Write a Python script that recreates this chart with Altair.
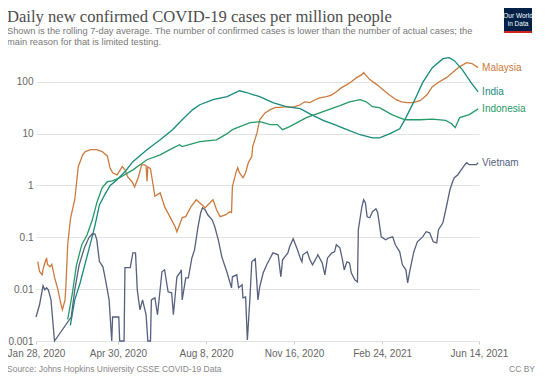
import altair as alt
import pandas as pd

# ---------------- data ----------------
countries = ["Malaysia", "India", "Indonesia", "Vietnam"]
colors = ["#cc7a3e", "#178a7c", "#259a66", "#56607f"]

malaysia_dates = [
    "2020-01-30", "2020-02-01", "2020-02-04", "2020-02-05", "2020-02-07", "2020-02-09", "2020-02-10", "2020-02-13", "2020-02-15", "2020-02-18",
    "2020-02-22", "2020-02-25", "2020-02-27", "2020-03-01", "2020-03-02", "2020-03-04", "2020-03-07", "2020-03-09", "2020-03-12", "2020-03-14",
    "2020-03-16", "2020-03-21", "2020-03-24", "2020-03-30", "2020-04-06", "2020-04-12", "2020-04-18", "2020-04-21", "2020-04-24", "2020-04-29",
    "2020-05-05", "2020-05-08", "2020-05-11", "2020-05-16", "2020-05-19", "2020-05-23", "2020-05-27", "2020-05-30", "2020-06-01", "2020-06-02",
    "2020-06-03", "2020-06-06", "2020-06-11", "2020-06-17", "2020-06-22", "2020-06-28", "2020-07-04", "2020-07-06", "2020-07-09", "2020-07-12",
    "2020-07-16", "2020-07-22", "2020-07-28", "2020-08-01", "2020-08-07", "2020-08-10", "2020-08-16", "2020-08-20", "2020-08-24", "2020-08-30",
    "2020-09-04", "2020-09-06", "2020-09-07", "2020-09-11", "2020-09-13", "2020-09-15", "2020-09-19", "2020-09-22", "2020-09-25", "2020-09-29",
    "2020-09-30", "2020-10-05", "2020-10-08", "2020-10-14", "2020-10-20", "2020-10-26", "2020-10-31", "2020-11-08", "2020-11-11", "2020-11-17",
    "2020-11-23", "2020-11-28", "2020-12-04", "2020-12-10", "2020-12-15", "2020-12-23", "2020-12-29", "2021-01-03", "2021-01-09", "2021-01-15",
    "2021-01-20", "2021-01-26", "2021-02-01", "2021-02-03", "2021-02-05", "2021-02-10", "2021-02-18", "2021-02-25", "2021-03-04", "2021-03-12",
    "2021-03-18", "2021-03-24", "2021-03-31", "2021-04-08", "2021-04-16", "2021-04-22", "2021-04-30", "2021-05-08", "2021-05-15", "2021-05-23",
    "2021-05-31", "2021-06-06", "2021-06-13",
]
malaysia_values = [
    0.034, 0.022, 0.019, 0.024, 0.032, 0.040, 0.030, 0.027, 0.030, 0.017,
    0.0097, 0.0054, 0.004, 0.0062, 0.012, 0.072, 0.22, 0.32, 0.53, 1.1,
    2.3, 3.9, 4.5, 4.9, 4.9, 4.5, 3.7, 2.2, 1.76, 1.6,
    2.3, 2.0, 1.47, 1.18, 0.94, 1.41, 2.5, 2.5, 2.4, 1.2,
    2.3, 2.1, 0.62, 0.72, 0.39, 0.25, 0.16, 0.128, 0.174, 0.24,
    0.25, 0.39, 0.53, 0.46, 0.37, 0.42, 0.53, 0.34, 0.25, 0.27,
    0.31, 0.30, 0.94, 1.76, 2.2, 1.76, 1.41, 1.76, 2.74, 3.6,
    5.6, 10.4, 18.5, 25, 29, 32, 32, 33, 32, 33,
    36, 41, 39.5, 45, 49, 51.5, 56, 64, 77, 88,
    100, 120, 137, 150, 137, 110, 88, 70, 56, 45,
    41, 39.5, 39.5, 43, 56, 80, 100, 120, 150, 196,
    234, 224, 187,
]

india_dates = [
    "2020-03-07", "2020-03-12", "2020-03-18", "2020-03-24", "2020-03-30", "2020-04-04", "2020-04-09", "2020-04-15", "2020-04-21", "2020-04-29",
    "2020-05-08", "2020-05-17", "2020-06-02", "2020-06-17", "2020-07-01", "2020-07-12", "2020-07-24", "2020-08-01", "2020-08-16", "2020-09-01",
    "2020-09-15", "2020-09-23", "2020-10-01", "2020-10-08", "2020-10-23", "2020-11-07", "2020-11-23", "2020-12-04", "2020-12-19", "2021-01-01",
    "2021-01-15", "2021-01-30", "2021-02-13", "2021-02-21", "2021-03-05", "2021-03-16", "2021-03-23", "2021-03-31", "2021-04-11", "2021-04-22",
    "2021-05-04", "2021-05-11", "2021-05-17", "2021-05-26", "2021-06-05", "2021-06-13",
]
india_values = [
    0.002, 0.0062, 0.013, 0.032, 0.078, 0.17, 0.42, 0.66, 0.99, 1.29,
    1.84, 2.87, 4.9, 7.6, 11.9, 18.5, 29, 36, 45, 51.5,
    67, 62, 56, 51.5, 39.5, 33, 30.3, 24, 18, 14.9,
    11.9, 9.5, 8.3, 8.3, 9.96, 12.4, 20.3, 37.8, 96, 187,
    279, 292, 255, 171, 96, 64,
]

indonesia_dates = [
    "2020-03-04", "2020-03-09", "2020-03-14", "2020-03-20", "2020-03-26", "2020-04-01", "2020-04-06", "2020-04-12", "2020-04-18", "2020-04-24",
    "2020-05-02", "2020-05-17", "2020-06-02", "2020-06-17", "2020-06-28", "2020-07-09", "2020-07-12", "2020-08-01", "2020-08-20", "2020-09-01",
    "2020-09-07", "2020-09-27", "2020-10-08", "2020-10-20", "2020-10-28", "2020-11-03", "2020-11-11", "2020-11-30", "2020-12-15", "2021-01-07",
    "2021-01-18", "2021-01-30", "2021-02-06", "2021-02-13", "2021-02-21", "2021-03-07", "2021-03-22", "2021-04-08", "2021-04-22", "2021-05-07",
    "2021-05-14", "2021-05-18", "2021-05-23", "2021-06-03", "2021-06-13",
]
indonesia_values = [
    0.0026, 0.0078, 0.0295, 0.072, 0.112, 0.218, 0.46, 0.9, 1.18, 1.23,
    1.41, 2.0, 3.13, 3.9, 4.9, 6.1, 5.6, 7.0, 7.6, 9.96,
    11.9, 16.2, 17, 14.9, 14.9, 11.9, 13.6, 20.3, 25, 34.6,
    41, 45, 41, 33, 31.6, 23.2, 18.5, 18.5, 19, 18,
    15.5, 13, 20.3, 23.2, 30,
]

vietnam_dates = [
    "2020-01-28", "2020-02-01", "2020-02-05", "2020-02-07", "2020-02-09", "2020-02-11", "2020-02-14", "2020-02-18", "2020-03-08", "2020-03-12",
    "2020-03-17", "2020-03-23", "2020-03-28", "2020-04-01", "2020-04-04", "2020-04-06", "2020-04-09", "2020-04-13", "2020-04-16", "2020-04-20",
    "2020-04-23", "2020-04-24", "2020-05-01", "2020-05-02", "2020-05-07", "2020-05-08", "2020-05-14", "2020-05-17", "2020-05-20", "2020-05-22",
    "2020-05-25", "2020-05-28", "2020-06-01", "2020-06-03", "2020-06-06", "2020-06-07", "2020-06-11", "2020-06-14", "2020-06-19", "2020-06-22",
    "2020-06-26", "2020-06-30", "2020-07-02", "2020-07-06", "2020-07-10", "2020-07-11", "2020-07-12", "2020-07-16", "2020-07-19", "2020-07-23",
    "2020-07-26", "2020-07-30", "2020-08-02", "2020-08-04", "2020-08-07", "2020-08-10", "2020-08-15", "2020-08-18", "2020-08-22", "2020-08-26",
    "2020-09-01", "2020-09-06", "2020-09-07", "2020-09-12", "2020-09-14", "2020-09-18", "2020-09-19", "2020-09-22", "2020-09-24", "2020-09-27",
    "2020-09-29", "2020-10-03", "2020-10-06", "2020-10-08", "2020-10-12", "2020-10-16", "2020-10-20", "2020-10-23", "2020-10-29", "2020-11-01",
    "2020-11-03", "2020-11-09", "2020-11-11", "2020-11-15", "2020-11-20", "2020-11-23", "2020-11-25", "2020-11-26", "2020-12-01", "2020-12-04",
    "2020-12-07", "2020-12-12", "2020-12-13", "2020-12-18", "2020-12-21", "2020-12-24", "2020-12-29", "2021-01-01", "2021-01-03", "2021-01-07",
    "2021-01-10", "2021-01-12", "2021-01-15", "2021-01-18", "2021-01-20", "2021-01-24", "2021-01-27", "2021-01-28", "2021-02-01", "2021-02-03",
    "2021-02-05", "2021-02-07", "2021-02-10", "2021-02-13", "2021-02-17", "2021-02-19", "2021-02-23", "2021-02-28", "2021-03-04", "2021-03-08",
    "2021-03-11", "2021-03-16", "2021-03-19", "2021-03-23", "2021-03-25", "2021-03-27", "2021-04-01", "2021-04-05", "2021-04-11", "2021-04-15",
    "2021-04-19", "2021-04-23", "2021-04-27", "2021-04-29", "2021-05-04", "2021-05-08", "2021-05-12", "2021-05-15", "2021-05-17", "2021-05-21",
    "2021-05-25", "2021-05-29", "2021-05-31", "2021-06-03", "2021-06-07", "2021-06-11", "2021-06-13",
]
vietnam_values = [
    0.0029, 0.005, 0.0116, 0.0097, 0.0106, 0.0097, 0.0062, 0.001, 0.0029, 0.0097,
    0.0295, 0.0627, 0.098, 0.117, 0.115, 0.09, 0.034, 0.027, 0.015, 0.0062,
    0.001, 0.0029, 0.0029, 0.001, 0.001, 0.026, 0.026, 0.05, 0.05, 0.0097,
    0.004, 0.0062, 0.0032, 0.001, 0.001, 0.0062, 0.0068, 0.0032, 0.0216, 0.0236,
    0.0089, 0.0085, 0.0032, 0.0173, 0.0216, 0.0236, 0.0062, 0.0165, 0.0165, 0.040,
    0.057, 0.16, 0.297, 0.371, 0.34, 0.272, 0.218, 0.16, 0.0895, 0.042,
    0.0207, 0.0106, 0.0173, 0.0189, 0.0106, 0.0121, 0.0068, 0.0071, 0.00105, 0.0071,
    0.0337, 0.0385, 0.0062, 0.0111, 0.0207, 0.0295, 0.040, 0.050, 0.046, 0.0173,
    0.0368, 0.050, 0.0656, 0.0935, 0.057, 0.040, 0.0337, 0.046, 0.0525, 0.0368,
    0.0295, 0.042, 0.046, 0.032, 0.0189, 0.040, 0.050, 0.0525, 0.0717, 0.0627,
    0.0368, 0.0236, 0.0337, 0.032, 0.0207, 0.0151, 0.0138, 0.14, 0.388, 0.53,
    0.463, 0.249, 0.238, 0.311, 0.355, 0.297, 0.102, 0.0895, 0.098, 0.102,
    0.0717, 0.0525, 0.0295, 0.0236, 0.0132, 0.0207, 0.0525, 0.0819, 0.102, 0.128,
    0.122, 0.0819, 0.0783, 0.14, 0.191, 0.388, 0.826, 1.18, 1.41, 1.61,
    2.01, 2.51, 2.74, 2.51, 2.51, 2.51, 2.74,
]

y_ticks = [0.001, 0.01, 0.1, 1, 10, 100]
x_ticks = [(2020, 1, 28), (2020, 4, 30), (2020, 8, 8), (2020, 11, 16), (2021, 2, 24), (2021, 6, 14)]

title_text = "Daily new confirmed COVID-19 cases per million people"
subtitle_lines = [
    "Shown is the rolling 7-day average. The number of confirmed cases is lower than the number of actual cases; the",
    "main reason for that is limited testing.",
]
source_text = "Source: Johns Hopkins University CSSE COVID-19 Data"
license_text = "CC BY"

# ---------------- build tables ----------------
series = {
    "Malaysia": (malaysia_dates, malaysia_values),
    "India": (india_dates, india_values),
    "Indonesia": (indonesia_dates, indonesia_values),
    "Vietnam": (vietnam_dates, vietnam_values),
}
rows = []
last_rows = []
for name, (ds, vs) in series.items():
    for d, v in zip(ds, vs):
        rows.append({"country": name, "date": d, "value": v})
    last_rows.append({"country": name, "date": ds[-1], "value": vs[-1]})
df = pd.DataFrame(rows)
df_last = pd.DataFrame(last_rows)


def dt(t):
    return alt.DateTime(year=t[0], month=t[1], date=t[2], utc=True)


x_enc = alt.X(
    "date:T",
    scale=alt.Scale(type="utc", domain=[dt(x_ticks[0]), dt(x_ticks[-1])], nice=False),
    axis=alt.Axis(
        values=[dt(t) for t in x_ticks], format="%b %-d, %Y", title=None,
        labelColor="#666666", labelFontSize=10, labelFont="Liberation Sans",
        grid=False, domain=False, tickSize=3, tickColor="#cccccc",
        labelPadding=4, labelOverlap=False, labelFlush=False,
    ),
)
y_enc = alt.Y(
    "value:Q",
    scale=alt.Scale(type="log", domain=[0.001, 300], nice=False),
    axis=alt.Axis(
        values=y_ticks, format="~g", title=None,
        labelColor="#666666", labelFontSize=10, labelFont="Liberation Sans",
        grid=True, gridColor="#e3e3e3", gridWidth=1, domain=False, ticks=False,
        labelPadding=3,
    ),
)
color_enc = alt.Color("country:N", scale=alt.Scale(domain=countries, range=colors), legend=None)

lines = alt.Chart(df).mark_line(strokeWidth=1.3).encode(x=x_enc, y=y_enc, color=color_enc)

labels = alt.Chart(df_last).mark_text(
    align="left", baseline="middle", dx=4, fontSize=10, font="Liberation Sans"
).encode(x="date:T", y="value:Q", text="country:N", color=color_enc)


def txt(s, x, y, size, color, font="Liberation Sans", align="left"):
    return alt.Chart(pd.DataFrame({"t": [s]})).mark_text(
        align=align, baseline="alphabetic", fontSize=size, color=color, font=font
    ).encode(text="t:N", x=alt.value(x), y=alt.value(y))


one = pd.DataFrame({"k": [0]})
logo_box = alt.Chart(one).mark_rect(color="#002147").encode(
    x=alt.value(468), x2=alt.value(496), y=alt.value(-49), y2=alt.value(-24))
logo_stripe = alt.Chart(one).mark_rect(color="#ce261e").encode(
    x=alt.value(468), x2=alt.value(496), y=alt.value(-26), y2=alt.value(-24))

texts = [
    txt(title_text, -29, -35, 16.6, "#4d4d4d", font="Liberation Serif"),
    txt(subtitle_lines[0], -29, -23, 9.3, "#777777"),
    txt(subtitle_lines[1], -29, -12, 9.3, "#777777"),
    txt(source_text, -29, 315, 8.5, "#888888"),
    txt(license_text, 499, 315, 8.5, "#888888", align="right"),
    txt("Our World", 482, -39, 6.5, "#ffffff", align="center"),
    txt("in Data", 482, -31, 6.5, "#ffffff", align="center"),
]

chart = alt.layer(lines, labels, logo_box, logo_stripe, *texts).properties(
    width=443,
    height=284,
    padding={"left": 28, "top": 49, "right": 59, "bottom": 34},
    autosize="none",
).configure_view(stroke=None)

chart.save("out.html", embed_options={"renderer": "svg", "actions": False})
